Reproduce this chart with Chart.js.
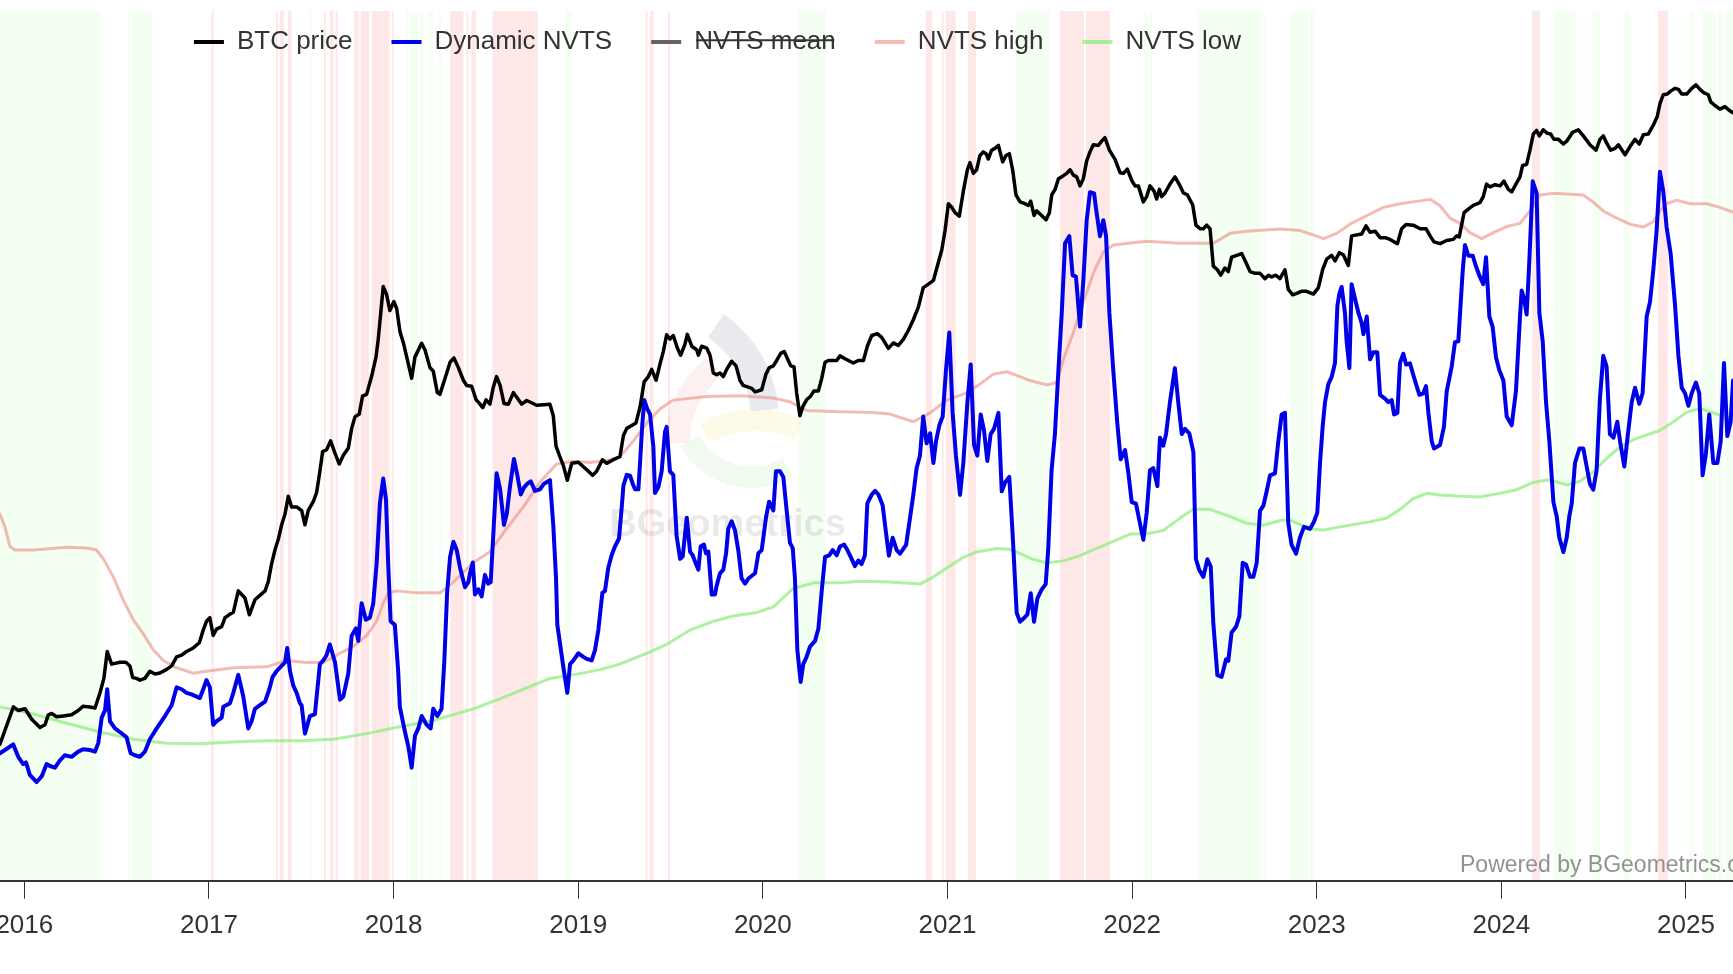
<!DOCTYPE html>
<html>
<head>
<meta charset="utf-8">
<title>Dynamic NVTS</title>
<script src="https://cdn.jsdelivr.net/npm/chart.js@4.4.1/dist/chart.umd.min.js"></script>
<style>
    html, body { margin: 0; padding: 0; background: #fff; overflow: hidden; }
    #frame { position: relative; width: 1733px; height: 974px; overflow: hidden; }
    #chart-box { position: absolute; left: -330px; top: -10px; width: 2095px; height: 962px; }
</style>
</head>
<body>
<div id="frame"><div id="chart-box"><canvas id="chart-nvts"></canvas></div></div>
<script>
// Données (dates en années décimales)

const tickYears = [2016, 2017, 2018, 2019, 2020, 2021, 2022, 2023, 2024, 2025];

const btcYears = [
    2015.868, 2015.941, 2015.968, 2016.004, 2016.040, 2016.085, 2016.112, 2016.130, 2016.148, 2016.175, 2016.211, 2016.256, 2016.292, 2016.319, 2016.355, 2016.383,
    2016.410, 2016.431, 2016.449, 2016.473, 2016.518, 2016.550, 2016.572, 2016.587, 2016.608, 2016.626, 2016.653, 2016.680, 2016.708, 2016.735, 2016.771, 2016.798,
    2016.825, 2016.852, 2016.879, 2016.915, 2016.948, 2016.969, 2016.987, 2017.005, 2017.023, 2017.041, 2017.069, 2017.087, 2017.114, 2017.132, 2017.159, 2017.195,
    2017.219, 2017.249, 2017.276, 2017.304, 2017.321, 2017.339, 2017.358, 2017.376, 2017.394, 2017.412, 2017.430, 2017.448, 2017.475, 2017.502, 2017.520, 2017.538,
    2017.565, 2017.583, 2017.601, 2017.616, 2017.637, 2017.659, 2017.683, 2017.706, 2017.728, 2017.755, 2017.773, 2017.791, 2017.814, 2017.832, 2017.854, 2017.881,
    2017.905, 2017.917, 2017.930, 2017.944, 2017.962, 2017.980, 2018.002, 2018.017, 2018.035, 2018.053, 2018.071, 2018.098, 2018.116, 2018.152, 2018.170, 2018.197,
    2018.215, 2018.237, 2018.251, 2018.279, 2018.306, 2018.327, 2018.351, 2018.378, 2018.396, 2018.423, 2018.447, 2018.465, 2018.483, 2018.501, 2018.522, 2018.540,
    2018.558, 2018.577, 2018.598, 2018.622, 2018.649, 2018.670, 2018.694, 2018.721, 2018.775, 2018.847, 2018.865, 2018.880, 2018.901, 2018.920, 2018.941, 2018.965,
    2019.001, 2019.028, 2019.055, 2019.078, 2019.100, 2019.131, 2019.154, 2019.190, 2019.226, 2019.245, 2019.263, 2019.290, 2019.313, 2019.335, 2019.357, 2019.380,
    2019.398, 2019.422, 2019.443, 2019.461, 2019.479, 2019.497, 2019.515, 2019.537, 2019.555, 2019.578, 2019.591, 2019.615, 2019.642, 2019.651, 2019.669, 2019.696,
    2019.714, 2019.732, 2019.750, 2019.768, 2019.786, 2019.804, 2019.831, 2019.855, 2019.876, 2019.894, 2019.940, 2019.958, 2019.994, 2020.017, 2020.035, 2020.057,
    2020.075, 2020.097, 2020.116, 2020.138, 2020.151, 2020.169, 2020.183, 2020.201, 2020.216, 2020.237, 2020.259, 2020.277, 2020.301, 2020.319, 2020.337, 2020.355,
    2020.400, 2020.418, 2020.445, 2020.490, 2020.517, 2020.545, 2020.566, 2020.590, 2020.620, 2020.644, 2020.680, 2020.707, 2020.734, 2020.761, 2020.788, 2020.815,
    2020.842, 2020.869, 2020.897, 2020.924, 2020.945, 2020.969, 2020.987, 2021.005, 2021.023, 2021.041, 2021.064, 2021.086, 2021.108, 2021.122, 2021.140, 2021.158,
    2021.176, 2021.194, 2021.209, 2021.221, 2021.239, 2021.257, 2021.276, 2021.299, 2021.317, 2021.335, 2021.353, 2021.371, 2021.393, 2021.420, 2021.438, 2021.451,
    2021.469, 2021.483, 2021.510, 2021.534, 2021.552, 2021.565, 2021.583, 2021.601, 2021.624, 2021.646, 2021.664, 2021.682, 2021.700, 2021.718, 2021.736, 2021.754,
    2021.772, 2021.790, 2021.817, 2021.835, 2021.853, 2021.877, 2021.907, 2021.935, 2021.953, 2021.974, 2021.998, 2022.016, 2022.034, 2022.061, 2022.079, 2022.097,
    2022.119, 2022.133, 2022.148, 2022.160, 2022.178, 2022.205, 2022.232, 2022.260, 2022.278, 2022.299, 2022.328, 2022.346, 2022.368, 2022.386, 2022.404, 2022.422,
    2022.440, 2022.462, 2022.480, 2022.503, 2022.521, 2022.539, 2022.594, 2022.621, 2022.639, 2022.666, 2022.693, 2022.720, 2022.738, 2022.756, 2022.779, 2022.801,
    2022.828, 2022.846, 2022.870, 2022.895, 2022.919, 2022.942, 2022.982, 2023.009, 2023.032, 2023.054, 2023.081, 2023.099, 2023.123, 2023.144, 2023.171, 2023.189,
    2023.243, 2023.267, 2023.289, 2023.316, 2023.343, 2023.370, 2023.397, 2023.437, 2023.460, 2023.484, 2023.523, 2023.560, 2023.592, 2023.614, 2023.635, 2023.668,
    2023.704, 2023.740, 2023.758, 2023.772, 2023.798, 2023.821, 2023.848, 2023.884, 2023.902, 2023.920, 2023.939, 2023.966, 2023.993, 2024.014, 2024.038, 2024.056,
    2024.079, 2024.101, 2024.115, 2024.137, 2024.155, 2024.173, 2024.191, 2024.206, 2024.227, 2024.249, 2024.267, 2024.285, 2024.309, 2024.336, 2024.354, 2024.386,
    2024.417, 2024.444, 2024.480, 2024.513, 2024.534, 2024.552, 2024.570, 2024.592, 2024.616, 2024.634, 2024.670, 2024.697, 2024.724, 2024.747, 2024.769, 2024.796,
    2024.823, 2024.845, 2024.859, 2024.877, 2024.899, 2024.917, 2024.941, 2024.959, 2024.977, 2025.004, 2025.031, 2025.054, 2025.076, 2025.098, 2025.121, 2025.134,
    2025.157, 2025.184, 2025.211, 2025.238, 2025.255
];
const btcPrice = [
    327, 452, 438, 445, 406, 378, 387, 422, 427, 415, 418, 422, 438, 455, 452, 448,
    511, 579, 731, 655, 666, 666, 645, 583, 579, 570, 579, 616, 601, 607, 626, 645,
    698, 708, 731, 754, 789, 880, 951, 980, 840, 888, 907, 980, 1011, 1027, 1237, 1163,
    1005, 1145, 1189, 1237, 1337, 1561, 1767, 1939, 2195, 2408, 2813, 2563, 2563, 2485, 2195, 2485,
    2684, 2900, 3494, 4142, 4207, 4545, 4077, 3717, 4014, 4273, 5065, 5597, 5735, 6697, 6803, 7940,
    9420, 10990, 13660, 17340, 16200, 14080, 15220, 14310, 11700, 10650, 9420, 7820, 9420, 10590, 10020, 8580,
    8320, 6905, 6803, 7820, 8990, 9330, 8580, 7690, 7350, 7300, 6490, 6290, 6060, 6490, 6250, 7230,
    7940, 7350, 6290, 6250, 6905, 6590, 6250, 6450, 6190, 6250, 5650, 4340, 3960, 3660, 3230, 3740,
    3775, 3630, 3494, 3370, 3494, 3860, 3740, 3860, 3960, 4760, 5065, 5190, 5310, 6100, 7580, 7940,
    8450, 7690, 8850, 9860, 11410, 10990, 11340, 10170, 9560, 10500, 11450, 10330, 10020, 9560, 10330, 10170,
    9560, 8190, 8060, 8190, 7940, 8450, 9070, 8710, 7690, 7350, 7170, 6950, 7080, 8110, 8580, 8710,
    9130, 9710, 9860, 9130, 8710, 8640, 6905, 5650, 6100, 6490, 6697, 7010, 7010, 7820, 8990, 9130,
    9130, 9500, 9270, 8930, 9130, 9130, 10330, 11340, 11520, 11160, 10140, 10630, 10400, 10960, 11840, 13000,
    14480, 17170, 17710, 18280, 20690, 23770, 28210, 35580, 34490, 32910, 31920, 39660, 47750, 50780, 46290, 47750,
    54060, 55770, 54910, 52400, 56590, 57500, 58960, 51130, 54060, 54910, 47750, 38440, 36140, 35580, 35040, 36360,
    32120, 33420, 32120, 30950, 32910, 38440, 40280, 44200, 45170, 46290, 47750, 45560, 44890, 41520, 44200, 51580,
    55770, 59330, 58960, 61200, 63080, 56590, 52400, 46560, 46290, 48040, 43520, 41520, 41520, 36140, 37840, 41520,
    39660, 37030, 40280, 37840, 39040, 42180, 44890, 41520, 39040, 38440, 35250, 29530, 28640, 28640, 29530, 28640,
    20690, 20060, 19130, 20370, 19740, 22360, 23070, 21020, 19740, 19440, 19440, 18560, 19130, 18850, 19130, 18560,
    20060, 16920, 16140, 16390, 16650, 16650, 16240, 17170, 20060, 22000, 22710, 21660, 23260, 22850, 20820, 26910,
    27340, 29350, 27770, 28030, 26490, 26490, 26100, 25150, 28640, 29730, 29530, 28640, 28640, 26910, 25550, 25150,
    25860, 26100, 26910, 26680, 32910, 33950, 35040, 35890, 37840, 42180, 41170, 41940, 41520, 43250, 40280, 39420,
    42180, 44890, 49570, 50040, 56590, 65100, 67150, 64090, 67550, 65490, 65100, 62170, 62170, 59690, 61200, 66120,
    67550, 64090, 59330, 56590, 62170, 64090, 60250, 56590, 57500, 59330, 54390, 58400, 62170, 59690, 64710, 65100,
    70310, 76020, 84720, 91550, 92100, 94460, 96770, 95930, 92100, 92100, 96770, 99800, 95930, 92970, 91550, 86060,
    83420, 80850, 82620, 79600, 78380
];

const nvtsYears = [
    2015.868, 2015.895, 2015.940, 2015.967, 2015.994, 2016.009, 2016.030, 2016.067, 2016.094, 2016.121, 2016.139, 2016.166, 2016.193, 2016.220, 2016.256, 2016.292,
    2016.319, 2016.355, 2016.383, 2016.401, 2016.419, 2016.437, 2016.449, 2016.464, 2016.491, 2016.518, 2016.554, 2016.576, 2016.599, 2016.626, 2016.653, 2016.680,
    2016.717, 2016.762, 2016.798, 2016.825, 2016.852, 2016.879, 2016.906, 2016.951, 2016.973, 2016.987, 2017.005, 2017.023, 2017.041, 2017.069, 2017.078, 2017.114,
    2017.132, 2017.159, 2017.186, 2017.213, 2017.231, 2017.249, 2017.276, 2017.304, 2017.327, 2017.345, 2017.366, 2017.384, 2017.412, 2017.424, 2017.439, 2017.457,
    2017.475, 2017.493, 2017.502, 2017.520, 2017.547, 2017.574, 2017.601, 2017.619, 2017.637, 2017.655, 2017.683, 2017.710, 2017.728, 2017.755, 2017.773, 2017.796,
    2017.809, 2017.827, 2017.850, 2017.872, 2017.890, 2017.908, 2017.926, 2017.944, 2017.959, 2017.971, 2017.984, 2018.007, 2018.025, 2018.034, 2018.062, 2018.080,
    2018.098, 2018.116, 2018.134, 2018.152, 2018.179, 2018.201, 2018.215, 2018.237, 2018.260, 2018.275, 2018.290, 2018.306, 2018.324, 2018.342, 2018.360, 2018.387,
    2018.405, 2018.414, 2018.429, 2018.441, 2018.459, 2018.477, 2018.495, 2018.513, 2018.526, 2018.540, 2018.558, 2018.577, 2018.598, 2018.613, 2018.631, 2018.652,
    2018.670, 2018.689, 2018.707, 2018.725, 2018.743, 2018.766, 2018.793, 2018.815, 2018.847, 2018.865, 2018.880, 2018.887, 2018.901, 2018.920, 2018.941, 2018.956,
    2018.974, 2019.001, 2019.028, 2019.046, 2019.073, 2019.091, 2019.109, 2019.131, 2019.145, 2019.163, 2019.181, 2019.199, 2019.221, 2019.236, 2019.245, 2019.263,
    2019.281, 2019.295, 2019.308, 2019.326, 2019.335, 2019.347, 2019.358, 2019.374, 2019.389, 2019.407, 2019.416, 2019.434, 2019.452, 2019.470, 2019.479, 2019.497,
    2019.515, 2019.533, 2019.552, 2019.566, 2019.588, 2019.606, 2019.620, 2019.638, 2019.651, 2019.663, 2019.681, 2019.692, 2019.705, 2019.723, 2019.741, 2019.750,
    2019.768, 2019.786, 2019.801, 2019.813, 2019.831, 2019.849, 2019.867, 2019.885, 2019.904, 2019.922, 2019.958, 2019.976, 2019.994, 2020.017, 2020.034, 2020.057,
    2020.071, 2020.093, 2020.111, 2020.129, 2020.147, 2020.162, 2020.174, 2020.187, 2020.205, 2020.219, 2020.237, 2020.256, 2020.283, 2020.301, 2020.319, 2020.337,
    2020.360, 2020.378, 2020.400, 2020.418, 2020.440, 2020.458, 2020.481, 2020.499, 2020.517, 2020.535, 2020.553, 2020.566, 2020.590, 2020.608, 2020.626, 2020.649,
    2020.667, 2020.683, 2020.703, 2020.725, 2020.743, 2020.776, 2020.797, 2020.815, 2020.833, 2020.851, 2020.869, 2020.887, 2020.906, 2020.924, 2020.938, 2020.956,
    2020.974, 2020.992, 2021.010, 2021.028, 2021.046, 2021.068, 2021.086, 2021.108, 2021.126, 2021.144, 2021.162, 2021.180, 2021.198, 2021.216, 2021.234, 2021.252,
    2021.276, 2021.294, 2021.312, 2021.335, 2021.353, 2021.375, 2021.393, 2021.415, 2021.433, 2021.451, 2021.469, 2021.487, 2021.510, 2021.532, 2021.546, 2021.564,
    2021.582, 2021.601, 2021.619, 2021.637, 2021.660, 2021.678, 2021.696, 2021.718, 2021.736, 2021.754, 2021.772, 2021.794, 2021.808, 2021.826, 2021.844, 2021.859,
    2021.877, 2021.898, 2021.920, 2021.938, 2021.962, 2021.980, 2021.998, 2022.021, 2022.039, 2022.061, 2022.079, 2022.097, 2022.115, 2022.137, 2022.151, 2022.169,
    2022.184, 2022.205, 2022.232, 2022.250, 2022.269, 2022.287, 2022.310, 2022.332, 2022.346, 2022.364, 2022.386, 2022.408, 2022.426, 2022.440, 2022.462, 2022.485,
    2022.509, 2022.521, 2022.539, 2022.563, 2022.581, 2022.599, 2022.617, 2022.639, 2022.657, 2022.675, 2022.693, 2022.711, 2022.729, 2022.747, 2022.774, 2022.792,
    2022.810, 2022.828, 2022.846, 2022.864, 2022.888, 2022.909, 2022.931, 2022.964, 2022.985, 2023.003, 2023.018, 2023.032, 2023.045, 2023.063, 2023.081, 2023.099,
    2023.112, 2023.123, 2023.135, 2023.153, 2023.162, 2023.177, 2023.189, 2023.207, 2023.226, 2023.244, 2023.253, 2023.271, 2023.289, 2023.307, 2023.328, 2023.343,
    2023.370, 2023.388, 2023.406, 2023.419, 2023.437, 2023.451, 2023.469, 2023.484, 2023.505, 2023.532, 2023.556, 2023.577, 2023.592, 2023.605, 2023.623, 2023.635,
    2023.668, 2023.689, 2023.704, 2023.731, 2023.749, 2023.767, 2023.780, 2023.791, 2023.803, 2023.821, 2023.845, 2023.863, 2023.884, 2023.902, 2023.917, 2023.935,
    2023.953, 2023.971, 2023.989, 2024.011, 2024.029, 2024.056, 2024.079, 2024.101, 2024.110, 2024.123, 2024.137, 2024.152, 2024.170, 2024.191, 2024.206, 2024.224,
    2024.242, 2024.260, 2024.282, 2024.300, 2024.314, 2024.336, 2024.354, 2024.368, 2024.381, 2024.399, 2024.423, 2024.444, 2024.462, 2024.480, 2024.498, 2024.516,
    2024.534, 2024.552, 2024.570, 2024.588, 2024.607, 2024.628, 2024.643, 2024.666, 2024.682, 2024.706, 2024.724, 2024.747, 2024.765, 2024.787, 2024.805, 2024.823,
    2024.841, 2024.859, 2024.877, 2024.895, 2024.917, 2024.941, 2024.959, 2024.977, 2024.995, 2025.013, 2025.031, 2025.054, 2025.072, 2025.090, 2025.108, 2025.126,
    2025.148, 2025.170, 2025.188, 2025.206, 2025.224, 2025.242, 2025.255
];
const nvtsValues = [
    31.9, 32.7, 34.1, 31.0, 29.2, 29.6, 26.5, 24.7, 26.1, 29.2, 28.7, 28.3, 30.1, 31.4, 31.0, 32.3,
    32.9, 32.7, 32.3, 34.5, 40.8, 42.6, 47.9, 39.9, 38.1, 37.2, 35.9, 31.9, 31.4, 31.0, 32.3, 35.4,
    38.1, 41.2, 43.9, 48.4, 47.9, 47.0, 46.6, 45.7, 48.4, 50.2, 48.4, 39.0, 39.9, 40.8, 43.5, 44.4,
    47.0, 51.5, 46.1, 38.1, 39.9, 43.0, 43.9, 44.8, 47.9, 51.0, 52.4, 53.3, 54.6, 58.2, 52.4, 48.8,
    47.0, 44.4, 43.9, 36.8, 41.2, 41.7, 54.2, 55.1, 56.4, 59.1, 54.6, 45.3, 46.1, 51.9, 61.3, 63.1,
    60.0, 69.4, 65.3, 65.8, 69.4, 79.2, 94.4, 100.6, 95.3, 79.2, 64.9, 64.0, 52.4, 43.5, 37.2, 33.6,
    28.3, 36.3, 38.1, 41.2, 39.0, 38.1, 43.0, 41.2, 43.0, 55.0, 72.0, 81.0, 84.8, 82.7, 78.3, 73.4,
    74.7, 76.9, 79.6, 71.6, 72.9, 71.1, 76.5, 74.3, 74.7, 86.3, 101.9, 97.9, 89.0, 91.7, 98.8, 105.5,
    101.5, 96.6, 98.4, 99.3, 99.9, 97.5, 97.9, 99.3, 100.2, 89.0, 75.6, 64.0, 59.5, 53.3, 47.0, 54.2,
    55.1, 56.9, 56.0, 55.5, 55.1, 57.7, 62.7, 72.0, 72.5, 78.3, 81.4, 83.6, 85.6, 93.5, 98.8, 101.5,
    101.3, 99.3, 97.9, 97.9, 104.6, 114.0, 120.2, 118.0, 116.7, 108.6, 97.0, 98.4, 102.4, 112.2, 113.5, 102.4,
    101.5, 86.3, 80.5, 81.1, 90.8, 82.3, 81.4, 79.2, 77.8, 83.6, 84.1, 81.9, 82.3, 71.6, 71.6, 73.8,
    76.9, 77.8, 81.9, 88.1, 89.9, 87.7, 82.7, 75.6, 74.3, 75.6, 76.9, 81.9, 82.7, 90.8, 94.8, 92.6,
    102.4, 102.4, 101.0, 92.6, 84.5, 83.2, 75.6, 57.7, 49.7, 54.2, 56.0, 58.6, 60.0, 63.1, 72.5, 81.0,
    81.4, 82.7, 81.4, 83.6, 84.1, 82.7, 80.5, 78.7, 80.1, 79.2, 81.4, 94.4, 96.6, 97.5, 96.6, 93.9,
    87.1, 81.3, 85.8, 82.7, 81.8, 84.0, 90.7, 96.5, 103.2, 106.3, 116.1, 109.4, 111.9, 104.5, 109.9, 113.9,
    116.1, 127.7, 137.1, 117.0, 106.3, 96.5, 104.5, 119.7, 129.1, 109.0, 106.3, 116.6, 112.6, 105.0, 111.7, 113.0,
    117.0, 97.4, 99.6, 101.0, 86.7, 67.0, 64.8, 65.7, 66.6, 71.9, 64.8, 70.6, 72.8, 74.2, 83.1, 102.7,
    111.7, 127.7, 142.0, 159.4, 161.2, 151.4, 151.1, 138.6, 150.1, 165.2, 172.2, 171.9, 167.0, 161.2, 165.2, 161.2,
    142.0, 127.7, 114.4, 105.4, 107.7, 101.9, 94.7, 94.3, 90.2, 85.3, 92.0, 102.7, 103.2, 98.7, 110.8, 108.8,
    111.7, 119.7, 128.2, 119.7, 111.7, 113.0, 111.9, 107.2, 80.4, 77.7, 76.0, 80.4, 78.6, 64.4, 51.4, 51.0,
    55.4, 55.0, 62.1, 63.5, 66.1, 79.5, 79.1, 76.0, 76.0, 79.5, 92.5, 93.8, 97.4, 101.4, 101.9, 109.9,
    116.6, 117.0, 89.4, 84.0, 81.8, 85.8, 88.5, 88.0, 89.8, 92.0, 104.5, 113.5, 119.7, 124.2, 126.0, 129.5,
    143.8, 146.9, 148.5, 142.0, 134.9, 128.2, 149.2, 145.6, 142.0, 139.4, 136.7, 141.1, 130.4, 132.2, 132.2, 121.5,
    120.6, 119.7, 120.2, 116.6, 117.0, 129.5, 131.8, 129.1, 129.4, 125.1, 121.5, 121.9, 123.7, 117.0, 109.9, 108.1,
    109.0, 113.5, 122.4, 128.6, 134.7, 134.9, 144.7, 152.7, 159.0, 156.3, 156.3, 153.6, 151.0, 149.2, 155.9, 141.1,
    138.5, 130.9, 127.7, 125.1, 116.1, 113.9, 122.4, 141.1, 147.6, 145.6, 141.6, 155.4, 174.9, 171.9, 142.0, 134.9,
    119.7, 109.9, 94.7, 91.1, 85.8, 82.2, 85.8, 91.1, 94.3, 104.5, 108.1, 108.1, 103.6, 99.2, 97.8, 102.7,
    120.6, 131.3, 128.6, 111.7, 110.8, 114.8, 109.9, 103.6, 110.3, 119.7, 123.3, 119.3, 121.9, 141.1, 144.7, 152.7,
    162.6, 177.3, 172.4, 163.5, 156.8, 143.8, 131.3, 123.3, 121.9, 118.8, 121.9, 124.6, 121.9, 101.4, 106.8, 116.6,
    104.5, 104.5, 109.9, 129.5, 111.2, 114.8, 125.1
];

const highYears = [
    2015.868, 2015.895, 2015.922, 2015.949, 2016.049, 2016.229, 2016.337, 2016.392, 2016.428, 2016.482, 2016.536, 2016.590, 2016.644, 2016.699, 2016.753, 2016.825,
    2016.915, 2016.987, 2017.132, 2017.312, 2017.421, 2017.529, 2017.619, 2017.710, 2017.782, 2017.854, 2017.908, 2017.944, 2017.971, 2018.017, 2018.125, 2018.252,
    2018.324, 2018.432, 2018.522, 2018.613, 2018.703, 2018.793, 2018.883, 2018.974, 2019.064, 2019.154, 2019.226, 2019.299, 2019.371, 2019.443, 2019.515, 2019.696,
    2019.876, 2020.057, 2020.147, 2020.237, 2020.418, 2020.599, 2020.689, 2020.815, 2020.906, 2020.996, 2021.104, 2021.176, 2021.249, 2021.321, 2021.375, 2021.447,
    2021.537, 2021.592, 2021.628, 2021.682, 2021.736, 2021.790, 2021.844, 2021.898, 2022.079, 2022.260, 2022.440, 2022.530, 2022.621, 2022.801, 2022.910, 2022.982,
    2023.036, 2023.108, 2023.180, 2023.271, 2023.361, 2023.451, 2023.541, 2023.614, 2023.668, 2023.722, 2023.776, 2023.830, 2023.893, 2023.957, 2024.029, 2024.101,
    2024.155, 2024.209, 2024.282, 2024.444, 2024.498, 2024.552, 2024.625, 2024.697, 2024.769, 2024.823, 2024.859, 2024.895, 2024.950, 2025.022, 2025.112, 2025.184,
    2025.255
];
const highValues = [
    91.7, 88.5, 83.6, 82.7, 82.7, 83.4, 83.2, 82.7, 80.5, 76.0, 70.2, 65.3, 61.8, 57.7, 55.1, 53.3,
    51.9, 52.4, 53.3, 53.5, 55.1, 54.6, 54.6, 56.9, 58.6, 61.3, 64.9, 69.4, 72.0, 72.5, 72.0, 72.0,
    74.7, 79.6, 82.3, 88.1, 93.5, 99.7, 104.2, 104.9, 104.6, 105.1, 106.0, 110.0, 114.4, 118.0, 120.2, 121.1,
    121.3, 120.7, 119.8, 117.6, 117.3, 117.1, 116.7, 114.8, 117.0, 120.2, 122.0, 124.2, 126.7, 127.3, 126.4, 125.1,
    124.0, 124.6, 130.4, 137.1, 144.7, 151.9, 157.2, 159.0, 159.9, 159.4, 159.4, 161.9, 162.4, 163.0, 162.6, 161.5,
    160.6, 161.9, 164.2, 166.3, 168.4, 169.3, 169.9, 170.4, 168.8, 165.7, 164.4, 162.1, 160.6, 162.1, 163.6, 164.4,
    167.5, 171.5, 171.9, 171.5, 169.7, 167.5, 165.7, 164.2, 163.5, 164.8, 167.5, 169.3, 170.2, 169.3, 169.3, 168.4,
    167.2
];

const lowYears = [
    2015.868, 2016.049, 2016.229, 2016.410, 2016.590, 2016.771, 2016.951, 2017.132, 2017.312, 2017.493, 2017.674, 2017.854, 2018.034, 2018.215, 2018.432, 2018.558,
    2018.703, 2018.847, 2018.974, 2019.118, 2019.226, 2019.371, 2019.479, 2019.606, 2019.732, 2019.840, 2019.967, 2020.057, 2020.165, 2020.274, 2020.418, 2020.526,
    2020.689, 2020.851, 2020.924, 2020.996, 2021.086, 2021.158, 2021.267, 2021.339, 2021.393, 2021.465, 2021.537, 2021.628, 2021.718, 2021.808, 2021.898, 2021.989,
    2022.079, 2022.169, 2022.260, 2022.332, 2022.422, 2022.530, 2022.621, 2022.711, 2022.801, 2022.855, 2022.964, 2023.036, 2023.126, 2023.216, 2023.289, 2023.379,
    2023.451, 2023.523, 2023.596, 2023.668, 2023.758, 2023.884, 2023.993, 2024.083, 2024.173, 2024.245, 2024.300, 2024.354, 2024.426, 2024.498, 2024.570, 2024.643,
    2024.715, 2024.787, 2024.859, 2024.932, 2025.004, 2025.076, 2025.148, 2025.202, 2025.255
];
const lowValues = [
    43.5, 41.7, 39.4, 37.2, 35.4, 34.4, 34.3, 34.7, 35.0, 35.0, 35.4, 36.8, 38.5, 40.1, 43.0, 45.2,
    47.9, 50.6, 51.5, 52.8, 54.2, 56.9, 59.1, 62.7, 64.9, 66.2, 67.1, 68.5, 73.1, 74.5, 74.5, 74.9,
    74.7, 74.2, 76.0, 78.2, 80.9, 82.2, 83.1, 82.9, 81.8, 80.4, 79.5, 80.0, 81.3, 83.1, 84.9, 86.7,
    86.8, 87.6, 90.7, 92.9, 92.9, 91.1, 89.4, 88.9, 90.1, 90.2, 88.0, 87.7, 88.5, 89.2, 89.8, 90.7,
    92.9, 95.6, 96.9, 96.5, 96.2, 96.0, 96.9, 97.8, 99.6, 100.2, 99.8, 99.0, 99.9, 102.3, 105.6, 108.5,
    110.3, 111.5, 112.6, 114.8, 117.2, 118.1, 117.0, 116.1, 115.7
];

// Zones de signal (début, fin)
const redBands = [
    [2017.013, 2017.026], [2017.363, 2017.371], [2017.385, 2017.405], [2017.428, 2017.447], [2017.623, 2017.631],
    [2017.654, 2017.674], [2017.686, 2017.697], [2017.786, 2017.814], [2017.822, 2017.868], [2017.883, 2017.978],
    [2017.990, 2018.000], [2018.307, 2018.379], [2018.395, 2018.403], [2018.423, 2018.445], [2018.537, 2018.780],
    [2019.365, 2019.376], [2019.389, 2019.408], [2019.486, 2019.497], [2020.883, 2020.915], [2020.970, 2020.979],
    [2020.991, 2021.044], [2021.111, 2021.155], [2021.609, 2021.739], [2021.750, 2021.879], [2024.166, 2024.209],
    [2024.848, 2024.902]
];
const greenBands = [
    [2015.500, 2016.409], [2016.559, 2016.570], [2016.583, 2016.690], [2017.545, 2017.556], [2018.066, 2018.080],
    [2018.088, 2018.132], [2018.144, 2018.162], [2018.189, 2018.216], [2018.248, 2018.259], [2018.934, 2018.964],
    [2020.192, 2020.342], [2021.371, 2021.554], [2022.065, 2022.085], [2022.097, 2022.108], [2022.359, 2022.695],
    [2022.711, 2022.719], [2022.858, 2022.953], [2022.963, 2022.983], [2024.289, 2024.402], [2024.493, 2024.536],
    [2024.664, 2024.695], [2025.022, 2025.041], [2025.085, 2025.160], [2025.173, 2025.199], [2025.217, 2025.300]
];

const toPoints = (xs, ys) => xs.map((x, i) => ({x: x, y: ys[i]}));

// Fond : zones rouges / vertes + filigrane
const backdrop = {
    id: 'backdrop',
    beforeDraw(chart) {
        const ctx = chart.ctx;
        const area = chart.chartArea;
        const x = chart.scales.x;
        const bandTop = 21;
        ctx.save();
        const paint = (bands, color) => {
            ctx.fillStyle = color;
            bands.forEach(b => {
                const x1 = x.getPixelForValue(b[0]);
                const x2 = x.getPixelForValue(b[1]);
                ctx.fillRect(x1, bandTop, Math.max(x2 - x1, 1.5), area.bottom - bandTop);
            });
        };
        paint(greenBands, 'rgba(100, 255, 60, 0.08)');
        paint(redBands, 'rgba(248, 40, 40, 0.11)');

        const cx = (area.left + area.right) / 2;
        const cy = (area.top + area.bottom) / 2;
        const arc = (dx, dy, r, a0, a1, w, color) => {
            ctx.beginPath();
            ctx.lineWidth = w;
            ctx.strokeStyle = color;
            ctx.arc(cx + dx, cy + dy, r, a0 * Math.PI / 180, a1 * Math.PI / 180);
            ctx.stroke();
        };
        arc(-67.5, -52.9, 115, -55, -5, 28, 'rgba(120, 130, 165, 0.17)');
        arc(52.5, -32.9, 92, 178, 232, 24, 'rgba(240, 110, 110, 0.10)');
        arc(37.5, 47.1, 100, 240, 296, 22, 'rgba(240, 220, 80, 0.13)');
        arc(34.5, -67.9, 72, 60, 150, 22, 'rgba(120, 210, 100, 0.10)');

        ctx.font = "bold 38px 'Liberation Sans', Arial, sans-serif";
        ctx.fillStyle = 'rgba(0, 0, 0, 0.085)';
        ctx.textAlign = 'center';
        ctx.textBaseline = 'middle';
        ctx.fillText('BGeometrics', cx + 10, cy + 53);
        ctx.restore();
    }
};

const credit = {
    id: 'credit',
    afterDraw(chart) {
        const ctx = chart.ctx;
        const area = chart.chartArea;
        ctx.save();
        ctx.font = "23px 'Liberation Sans', Arial, sans-serif";
        ctx.fillStyle = '#929292';
        ctx.textAlign = 'left';
        ctx.textBaseline = 'alphabetic';
        ctx.fillText('Powered by BGeometrics.com', area.right - 305, area.bottom - 9);
        ctx.restore();
    }
};

Chart.defaults.font.family = "'Liberation Sans', Arial, Helvetica, sans-serif";
Chart.defaults.font.size = 26;
Chart.defaults.color = '#333';

const chart1 = new Chart(document.getElementById('chart-nvts'), {
    type: 'line',
    data: {
        datasets: [
            {
                label: 'BTC price',
                data: toPoints(btcYears, btcPrice),
                yAxisID: 'yPrice',
                borderColor: '#000',
                backgroundColor: '#000',
                borderWidth: 3.5,
                pointBorderWidth: 4,
                pointStyle: 'line'
            },
            {
                label: 'Dynamic NVTS',
                data: toPoints(nvtsYears, nvtsValues),
                yAxisID: 'yNvts',
                borderColor: 'rgb(0, 0, 232)',
                backgroundColor: 'rgb(0, 0, 232)',
                borderWidth: 4,
                pointBorderWidth: 4,
                pointStyle: 'line'
            },
            {
                label: 'NVTS mean',
                data: [],
                yAxisID: 'yNvts',
                hidden: true,
                borderColor: 'rgb(100, 100, 100)',
                backgroundColor: 'rgb(100, 100, 100)',
                borderWidth: 3,
                pointBorderWidth: 4,
                pointStyle: 'line'
            },
            {
                label: 'NVTS high',
                data: toPoints(highYears, highValues),
                yAxisID: 'yNvts',
                borderColor: 'rgba(236, 140, 130, 0.6)',
                backgroundColor: 'rgba(236, 140, 130, 0.6)',
                borderWidth: 3,
                pointBorderWidth: 4,
                pointStyle: 'line'
            },
            {
                label: 'NVTS low',
                data: toPoints(lowYears, lowValues),
                yAxisID: 'yNvts',
                borderColor: 'rgba(144, 238, 130, 0.75)',
                backgroundColor: 'rgba(144, 238, 130, 0.75)',
                borderWidth: 3,
                pointBorderWidth: 4,
                pointStyle: 'line'
            }
        ]
    },
    options: {
        responsive: true,
        maintainAspectRatio: false,
        animation: false,
        layout: { padding: 0, autoPadding: false },
        elements: {
            point: { radius: 0, hoverRadius: 0 },
            line: { tension: 0, borderJoinStyle: 'round', borderCapStyle: 'round' }
        },
        plugins: {
            legend: {
                position: 'top',
                align: 'center',
                labels: {
                    usePointStyle: true,
                    pointStyleWidth: 30,
                    padding: 39,
                    color: '#333',
                    font: { size: 26 }
                }
            },
            tooltip: { enabled: false }
        },
        scales: {
            x: {
                type: 'linear',
                min: 2014.081,
                max: 2025.428,
                afterBuildTicks: function(scale) {
                    scale.ticks = tickYears.map(v => ({ value: v }));
                },
                ticks: {
                    padding: 11,
                    autoSkip: false,
                    maxRotation: 0,
                    color: '#333',
                    font: { size: 26 },
                    callback: v => String(v)
                },
                grid: { drawOnChartArea: false, drawTicks: true, tickLength: 18, color: '#333', lineWidth: 1 },
                border: { display: true, color: '#333', width: 2 }
            },
            yPrice: { type: 'logarithmic', position: 'left', display: false, min: 100, max: 118500 },
            yNvts: { type: 'linear', position: 'right', display: false, min: 0, max: 204 }
        }
    },
    plugins: [backdrop, credit]
});
</script>
</body>
</html>
